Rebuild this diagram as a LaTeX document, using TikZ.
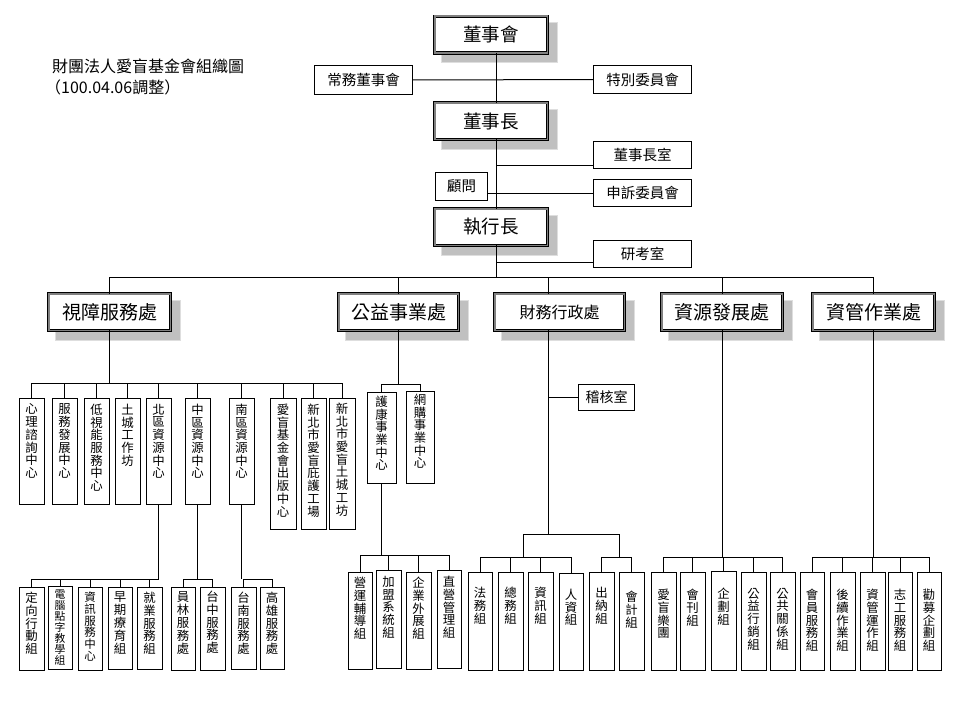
\documentclass[tikz,border=0pt]{standalone}
\usepackage{fontspec}
\setmainfont{Noto Sans CJK TC}
\usetikzlibrary{backgrounds}
\definecolor{shfill}{RGB}{192,192,192}
\definecolor{shedge}{RGB}{222,222,222}
\definecolor{midgray}{RGB}{128,128,128}
\def\vtA#1{\ifx#1\relax\else\hbox{#1}\expandafter\vtA\fi}
% [options], name, left, right, top, bottom, pad, pitch, text
\newcommand\vnode[9][]{%
  \node[vrbox, anchor=north, minimum width={#4-#3}, #1] (#2) at ({(#3+#4)/2},#5)
   {\vbox to \dimexpr #6pt-#5pt\relax{\baselineskip=#8pt\lineskiplimit=-100pt\vskip#7pt\vtA#9\relax\vfill}};}
\newcommand\shadowof[1]{\filldraw[shadowst] ([shift={(6.3,6.3)}]#1.north west) rectangle ([shift={(9.7,9.7)}]#1.south east);}
\tikzset{
  bigbox/.style={draw=black, double=midgray, double distance=1.6pt, line width=0.9pt,
    fill=white, inner sep=0pt, outer sep=0pt, minimum height=36.6pt},
  smbox/.style={draw=black, line width=1pt, fill=white, inner sep=0pt, outer sep=0pt,
    font=\fontsize{14.5}{16}\selectfont},
  vrbox/.style={draw=black, line width=1pt, fill=white, inner sep=0pt, outer sep=0pt,
    font=\fontsize{12.4}{12.7}\selectfont},
  conn/.style={draw=black, line width=1pt},
  shadowst/.style={fill=shfill, draw=shedge, line width=1pt},
}
\begin{document}
\begin{tikzpicture}[x=1pt, y=-1pt]
\useasboundingbox (0,0) rectangle (960,720);

% title
\node[anchor=north west, align=left, inner sep=0pt, font=\fontsize{16}{20.5}\selectfont] (title) at (52,59)
  {財團法人愛盲基金會組織圖\\\hspace*{-7pt}（100.04.06調整）};

% top level
\node[bigbox, minimum width=112.6, font=\fontsize{18.5}{20}\selectfont] (dsh) at (491,34.5) {董事會};
\node[bigbox, minimum width=112.6, font=\fontsize{18.5}{20}\selectfont] (dsz) at (491,121) {董事長};
\node[bigbox, minimum width=112.6, font=\fontsize{18.5}{20}\selectfont] (zxz) at (491,227) {執行長};

\node[smbox, minimum width=98, minimum height=29] (cwdsh) at (363.5,80) {常務董事會};
\node[smbox, minimum width=98, minimum height=28] (tbwy) at (642.5,79.5) {特別委員會};
\node[smbox, minimum width=98, minimum height=27] (dszs) at (642.5,155) {董事長室};
\node[smbox, minimum width=52, minimum height=28] (gw) at (461.5,186.5) {顧問};
\node[smbox, minimum width=98, minimum height=27] (ssw) at (642.5,193) {申訴委員會};
\node[smbox, minimum width=98, minimum height=27] (yks) at (642.5,254) {研考室};

% level 2
\node[bigbox, minimum width=121.6, font=\fontsize{19}{20}\selectfont] (sz) at (109.5,312) {視障服務處};
\node[bigbox, minimum width=119.6, font=\fontsize{19}{20}\selectfont] (gy) at (398.5,312) {公益事業處};
\node[bigbox, minimum width=129.6, font=\fontsize{16}{18}\selectfont] (cw) at (559.5,312) {財務行政處};
\node[bigbox, minimum width=120.6, font=\fontsize{19}{20}\selectfont] (zy) at (722,312) {資源發展處};
\node[bigbox, minimum width=121.6, font=\fontsize{19}{20}\selectfont] (zg) at (873.5,312) {資管作業處};

\node[smbox, minimum width=56, minimum height=26, font=\fontsize{14}{16}\selectfont] (jhs) at (606.5,397.5) {稽核室};

% level 3
\vnode{sz1}{19}{44}{398}{504}{6}{12.7}{心理諮詢中心}
\vnode{sz2}{52}{77}{398}{504}{6}{12.7}{服務發展中心}
\vnode{sz3}{84}{109}{398}{504}{6}{12.7}{低視能服務中心}
\vnode{sz4}{115}{140}{398}{504}{6}{12.7}{土城工作坊}
\vnode{sz5}{146}{171}{398}{504}{6}{12.7}{北區資源中心}
\vnode{sz6}{185}{210}{398}{504}{6}{12.7}{中區資源中心}
\vnode{sz7}{229}{254}{398}{504}{6}{12.7}{南區資源中心}
\vnode{sz8}{270}{296}{398}{529}{6}{12.7}{愛盲基金會出版中心}
\vnode{sz9}{301}{326}{398}{529}{6}{12.7}{新北市愛盲庇護工場}
\vnode{sz10}{329}{355}{398}{529}{5}{12.7}{新北市愛盲土城工坊}

\vnode{g1}{367}{396}{392}{483}{4}{12.7}{護康事業中心}
\vnode{g2}{406}{434}{391}{483}{3}{12.7}{網購事業中心}

% level 4
\vnode{n1}{19}{44}{587}{670}{5}{12.8}{定向行動組}
\vnode[font=\fontsize{10.8}{11}\selectfont]{n2}{48}{72}{586}{669}{4}{11}{電腦點字教學組}
\vnode[font=\fontsize{11.5}{11.7}\selectfont]{n3}{78}{102}{587}{670}{5}{11.7}{資訊服務中心}
\vnode{n4}{108}{132}{587}{669}{5}{12.8}{早期療育組}
\vnode{n5}{137}{162}{587}{669}{5}{12.8}{就業服務組}
\vnode{k1}{171}{195}{587}{670}{5}{12.8}{員林服務處}
\vnode{k2}{200}{225}{587}{670}{4}{12.8}{台中服務處}
\vnode{s1}{231}{256}{587}{669}{5}{12.8}{台南服務處}
\vnode{s2}{260}{284}{587}{669}{5}{12.8}{高雄服務處}

\vnode{gg1}{348}{372}{572}{669}{5}{12.8}{營運輔導組}
\vnode{gg2}{376}{401}{570}{668}{6}{12.8}{加盟系統組}
\vnode{gg3}{406}{431}{572}{669}{5}{12.8}{企業外展組}
\vnode{gg4}{437}{461}{570}{668}{6}{12.8}{直營管理組}

\vnode{c1}{468}{492}{572}{670}{15}{12.8}{法務組}
\vnode{c2}{498}{523}{572}{670}{15}{12.8}{總務組}
\vnode{c3}{528}{553}{572}{670}{15}{12.8}{資訊組}
\vnode{c4}{559}{583}{573}{670}{16}{12.8}{人資組}
\vnode{c5}{589}{614}{572}{670}{15}{12.8}{出納組}
\vnode{c6}{619}{644}{572}{670}{19}{12.8}{會計組}

\vnode{r1}{651}{676}{572}{670}{17}{12.8}{愛盲樂團}
\vnode{r2}{680}{705}{572}{670}{17}{12.8}{會刊組}
\vnode{r3}{711}{736}{571}{670}{17}{12.8}{企劃組}
\vnode{r4}{741}{766}{572}{670}{16}{12.8}{公益行銷組}
\vnode{r5}{770}{795}{572}{670}{16}{12.8}{公共關係組}

\vnode{m1}{800}{824}{572}{670}{17}{12.8}{會員服務組}
\vnode{m2}{830}{855}{572}{670}{17}{12.8}{後續作業組}
\vnode{m3}{860}{885}{572}{670}{17}{12.8}{資管運作組}
\vnode{m4}{888}{912}{572}{670}{17}{12.8}{志工服務組}
\vnode{m5}{917}{941}{572}{670}{17}{12.8}{勸募企劃組}

% shadows
\begin{scope}[on background layer]
\foreach \n in {dsh,dsz,zxz,sz,gy,cw,zy,zg} {\shadowof{\n}}
\end{scope}

% coordinates
\coordinate (t1) at (496,165);
\coordinate (t2) at (496,262);
\coordinate (mb) at (496,277);
\coordinate (b1) at (0,383);
\coordinate (b2) at (0,579);
\coordinate (b3) at (0,384);
\coordinate (b4) at (0,555);
\coordinate (b5) at (0,557);
\coordinate (f0) at (548,534);
\coordinate (fl) at (523,534);
\coordinate (fr) at (619,534);

% top connectors
\draw[conn] ([xshift=5]dsh.south) -- ([xshift=5]dsz.north);
\draw[conn] ([xshift=5]dsz.south) -- ([xshift=5]zxz.north);
\draw[conn] ([xshift=5]zxz.south) -- (mb);
\draw[conn] (cwdsh.east) -- (tbwy.west);
\draw[conn] (t1) -- (t1 -| dszs.west);
\draw[conn] (ssw.west -| gw.east) -- (ssw.west);
\draw[conn] (t2) -- (t2 -| yks.west);

% main bus
\draw[conn] (sz.north |- mb) -- (zg.north |- mb);
\foreach \n in {sz,gy,zy,zg} {\draw[conn] (\n.north) -- (\n.north |- mb);}
\draw[conn] ([xshift=-11.5]cw.north) -- ([xshift=-11.5]cw.north |- mb);

% visually impaired services
\draw[conn] (sz.south) -- (sz.south |- b1);
\draw[conn] (sz1.north |- b1) -- (sz10.north |- b1);
\foreach \n in {sz1,sz2,sz3,sz4,sz5,sz6,sz7,sz8,sz9,sz10} {\draw[conn] (\n.north) -- (\n.north |- b1);}

\draw[conn] (sz5.south) -- (sz5.south |- b2);
\draw[conn] (n1.north |- b2) -- (sz5.south |- b2);
\foreach \n in {n1,n2,n3,n4,n5} {\draw[conn] (\n.north) -- (\n.north |- b2);}
\draw[conn] (sz6.south) -- (sz6.south |- b2);
\draw[conn] (k1.north |- b2) -- (k2.north |- b2);
\foreach \n in {k1,k2} {\draw[conn] (\n.north) -- (\n.north |- b2);}
\draw[conn] (sz7.south) -- (sz7.south |- b2);
\draw[conn] (s1.north |- b2) -- (s2.north |- b2);
\foreach \n in {s1,s2} {\draw[conn] (\n.north) -- (\n.north |- b2);}

% public welfare
\draw[conn] (gy.south) -- (gy.south |- b3);
\draw[conn] (g1.north |- b3) -- (g2.north |- b3);
\foreach \n in {g1,g2} {\draw[conn] (\n.north) -- (\n.north |- b3);}
\draw[conn] (g1.south) -- (g1.south |- b4);
\draw[conn] (gg1.north |- b4) -- (gg4.north |- b4);
\foreach \n in {gg1,gg2,gg3,gg4} {\draw[conn] (\n.north) -- (\n.north |- b4);}

% finance
\draw[conn] ([xshift=-11.5]cw.south) -- (f0);
\draw[conn] (f0 |- jhs.west) -- (jhs.west);
\draw[conn] (fl) -- (fr);
\draw[conn] (fl) -- (fl |- b5);
\draw[conn] (fr) -- (fr |- b5);
\draw[conn] (c1.north |- b5) -- (c4.north |- b5);
\draw[conn] (c5.north |- b5) -- (c6.north |- b5);
\foreach \n in {c1,c2,c3,c4,c5,c6} {\draw[conn] (\n.north) -- (\n.north |- b5);}

% resource development
\draw[conn] (zy.south) -- (zy.south |- b5);
\draw[conn] (r1.north |- b5) -- (r5.north |- b5);
\foreach \n in {r1,r2,r3,r4,r5} {\draw[conn] (\n.north) -- (\n.north |- b5);}

% IT operations
\draw[conn] (zg.south) -- (zg.south |- b5);
\draw[conn] (m1.north |- b5) -- (m5.north |- b5);
\foreach \n in {m1,m2,m3,m4,m5} {\draw[conn] (\n.north) -- (\n.north |- b5);}
\end{tikzpicture}
\end{document}
